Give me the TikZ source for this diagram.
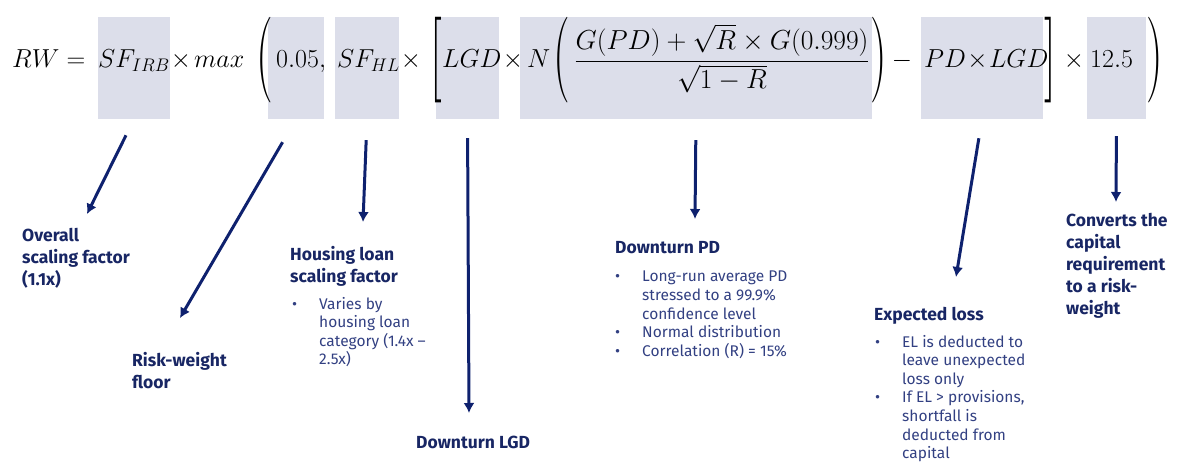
\RequirePackage{fix-cm}
\documentclass[tikz,border=0pt]{standalone}
\usepackage{amsmath}
\usepackage{graphicx}
\usepackage{fontspec}
\setsansfont{Fira Sans}
\usetikzlibrary{arrows.meta}

\definecolor{navy}{RGB}{14,33,110}
\definecolor{headblue}{RGB}{24,38,100}
\definecolor{bodyblue}{RGB}{50,64,130}
\definecolor{shade}{RGB}{220,222,234}

\newcommand{\tall}[1]{\scalebox{1.8}[3.3]{#1}}
\newcommand{\rows}[1]{\begin{tabular}[t]{@{}l@{}}#1\end{tabular}}
\newcommand{\points}[1]{\begin{tabular}[t]{@{}p{27pt}@{}l@{}}#1\end{tabular}}

\begin{document}
\begin{tikzpicture}[x=1pt,y=-1pt,font=\sffamily,
 hl/.style={fill=shade,inner sep=0pt,minimum height=102pt},
 term/.style={inner sep=0pt,anchor=base west,font=\fontsize{26}{30}\selectfont},
 delim/.style={inner sep=0pt,font=\rmfamily\fontsize{26}{30}\selectfont},
 head/.style={inner sep=0pt,anchor=base west,text=headblue,font=\sffamily\bfseries\fontsize{17.5}{22}\selectfont},
 body/.style={inner sep=0pt,anchor=base west,text=bodyblue,font=\sffamily\fontsize{15.5}{18.6}\selectfont},
 pointer/.style={draw=navy,line width=3pt,-{Latex[length=10pt,width=11pt]}}]
\useasboundingbox (0,0) rectangle (1178,462);
% shaded parts of the formula
\node[hl,minimum width=72pt] (irbbox) at (134,68) {};
\node[hl,minimum width=56pt] (floorbox) at (296,68) {};
\node[hl,minimum width=64pt] (hlbox) at (367,68) {};
\node[hl,minimum width=63pt] (lgdbox) at (467.5,68) {};
\node[hl,minimum width=352pt] (normbox) at (696,68) {};
\node[hl,minimum width=122pt] (elbox) at (982,68) {};
\node[hl,minimum width=59pt] (scalebox) at (1116.5,68) {};
% formula
\node[term] (rw) at (12,68) {$RW =$};
\node[term] (irb) at (98,68) {$SF_{IRB}$};
\node[term,anchor=base] (times1) at (181,68) {$\times$};
\node[term] (maxop) at (194,68) {$max$};
\node[delim] (lpar1) at (265,60) {\tall{(}};
\node[term] (floor) at (276,68) {$0.05,$};
\node[term] (sfhl) at (337,68) {$SF_{HL}$};
\node[term,anchor=base] (times2) at (411,68) {$\times$};
\node[delim] (lbrack) at (436,60) {\tall{[}};
\node[term] (lgdterm) at (442,68) {$LGD$};
\node[term,anchor=base] (times3) at (513,68) {$\times$};
\node[term] (normal) at (527,68) {$N$};
\node[delim] (lpar2) at (562,60) {\tall{(}};
\node[term,anchor=base,font=\fontsize{27.5}{30}\selectfont] (frac) at (722,68) {$\dfrac{G(PD)+\sqrt{R}\times G(0.999)}{\sqrt{1-R}}$};
\node[delim] (rpar2) at (879,60) {\tall{)}};
\node[term,anchor=base] (minus) at (902,68) {$-$};
\node[term] (elterm) at (924,68) {$PD\mskip-3mu\times\mskip-3mu LGD$};
\node[delim] (rbrack) at (1050,60) {\tall{]}};
\node[term,anchor=base] (times4) at (1074,68) {$\times$};
\node[term] (scale) at (1090,68) {$12.5$};
\node[delim] (rpar1) at (1155,60) {\tall{)}};
% labels
\node[head] (overall) at (22,242) {\rows{Overall\\scaling factor\\(1.1x)}};
\node[head] (rwfloor) at (132,366) {\rows{Risk-weight\\floor}};
\node[head] (housing) at (290,261) {\rows{Housing loan\\scaling factor}};
\node[body] (housingnote) at (292,309) {\points{\textbullet & Varies by\\ & housing loan\\ & category (1.4x –\\ & 2.5x)}};
\node[head] (downlgd) at (416,448) {Downturn LGD};
\node[head] (downpd) at (615,254) {Downturn PD};
\node[body] (pdnote) at (615,282) {\points{\textbullet & Long-run average PD\\ & stressed to a 99.9\%\\ & confidence level\\ \textbullet & Normal distribution\\ \textbullet & Correlation (R) = 15\%}};
\node[head] (exploss) at (874,321) {Expected loss};
\node[body] (elnote) at (875,347) {\points{\textbullet & EL is deducted to\\ & leave unexpected\\ & loss only\\ \textbullet & If EL > provisions,\\ & shortfall is\\ & deducted from\\ & capital}};
\node[head] (convert) at (1066,227) {\rows{Converts the\\capital\\requirement\\to a risk-\\weight}};
% arrows
\coordinate (irbtip) at (87,214);
\coordinate (floortip) at (180,318);
\coordinate (hltip) at (363,222);
\coordinate (lgdtip) at (469,413);
\coordinate (pdtip) at (695,219);
\coordinate (eltip) at (956,277);
\coordinate (scaletip) at (1116,202);
\draw[pointer,shorten <=18pt] (irbbox.south) -- (irbtip);
\draw[pointer,shorten <=26.6pt] (floorbox.south) -- (floortip);
\draw[pointer,shorten <=21pt] (hlbox.south) -- (hltip);
\draw[pointer,shorten <=19pt] (lgdbox.south) -- (lgdtip);
\draw[pointer,shorten <=21pt] (normbox.south) -- (pdtip);
\draw[pointer,shorten <=19.3pt] (elbox.south) -- (eltip);
\draw[pointer,shorten <=17pt] (scalebox.south) -- (scaletip);
\end{tikzpicture}
\end{document}
